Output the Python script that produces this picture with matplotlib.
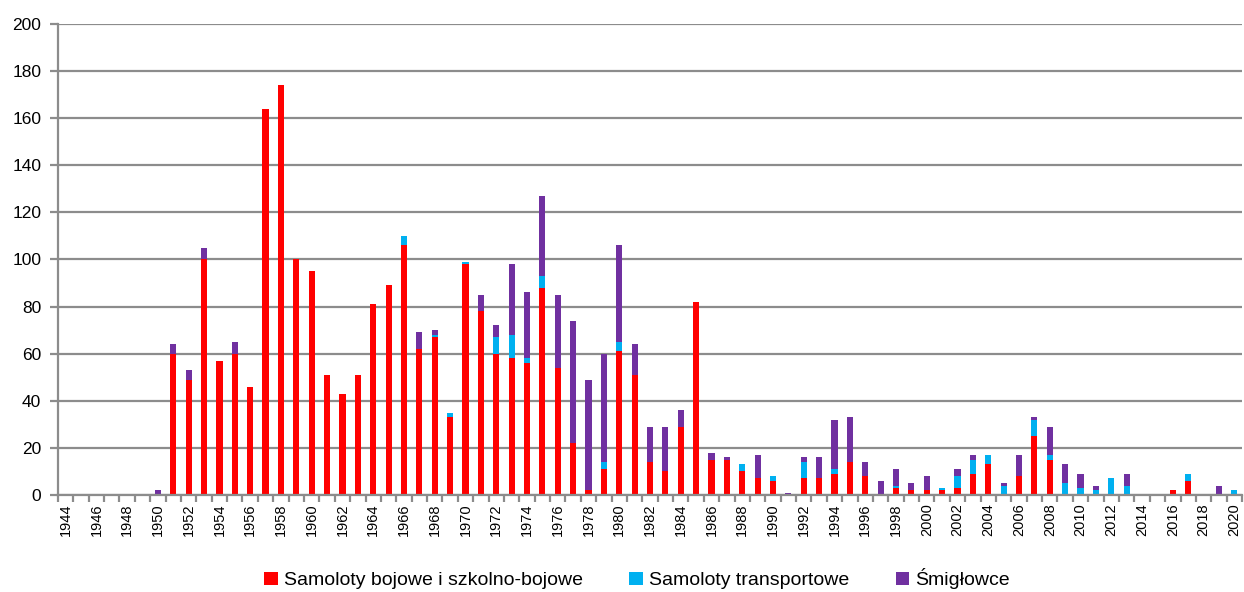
import numpy as np
import matplotlib
matplotlib.use("Agg")
import matplotlib.pyplot as plt
from matplotlib.patches import Patch

plt.rcParams['font.family'] = ['Liberation Sans', 'DejaVu Sans']

years = list(range(1944, 2021))

# aircraft counts per year
bojowe = {1951: 60, 1952: 49, 1953: 100, 1954: 57, 1955: 60, 1956: 46, 1957: 164,
          1958: 174, 1959: 100, 1960: 95, 1961: 51, 1962: 43, 1963: 51, 1964: 81,
          1965: 89, 1966: 106, 1967: 62, 1968: 67, 1969: 33, 1970: 98, 1971: 78,
          1972: 60, 1973: 58, 1974: 56, 1975: 88, 1976: 54, 1977: 22, 1978: 2,
          1979: 11, 1980: 61, 1981: 51, 1982: 14, 1983: 10, 1984: 29, 1985: 82,
          1986: 15, 1987: 15, 1988: 10, 1989: 7, 1990: 6, 1992: 7, 1993: 7,
          1994: 9, 1995: 14, 1996: 8, 1998: 3, 1999: 2, 2000: 2, 2001: 2, 2002: 3,
          2003: 9, 2004: 13, 2006: 8, 2007: 25, 2008: 15, 2016: 2, 2017: 6}
transportowe = {1966: 4, 1968: 1, 1969: 2, 1970: 1, 1972: 7, 1973: 10, 1974: 2,
                1975: 5, 1979: 3, 1980: 4, 1988: 3, 1990: 2, 1992: 7, 1994: 2,
                1998: 1, 2001: 1, 2002: 5, 2003: 6, 2004: 4, 2005: 4, 2007: 7,
                2008: 2, 2009: 5, 2010: 3, 2011: 2, 2012: 7, 2013: 4, 2017: 3, 2020: 2}
smiglowce = {1950: 2, 1951: 4, 1952: 4, 1953: 5, 1955: 5, 1967: 7, 1968: 2, 1971: 7,
             1972: 5, 1973: 30, 1974: 28, 1975: 34, 1976: 31, 1977: 52, 1978: 47,
             1979: 46, 1980: 41, 1981: 13, 1982: 15, 1983: 19, 1984: 7, 1986: 3,
             1987: 1, 1989: 10, 1991: 1, 1992: 2, 1993: 9, 1994: 21, 1995: 19,
             1996: 6, 1997: 6, 1998: 7, 1999: 3, 2000: 6, 2002: 3, 2003: 2, 2005: 1,
             2006: 9, 2007: 1, 2008: 12, 2009: 8, 2010: 6, 2011: 2, 2013: 5, 2019: 4}

labels = ['Samoloty bojowe i szkolno-bojowe', 'Samoloty transportowe', 'Śmigłowce']
colors = ['#FF0000', '#00B0F0', '#7030A0']

a = np.array([bojowe.get(y, 0) for y in years])
b = np.array([transportowe.get(y, 0) for y in years])
c = np.array([smiglowce.get(y, 0) for y in years])
x = np.arange(len(years))

fig = plt.figure(figsize=(12.44, 5.92), dpi=100)
ax = fig.add_axes([0.0466, 0.1639, 0.9518, 0.7956])

w = 0.4
ax.bar(x, a, w, color=colors[0], zorder=3)
ax.bar(x, b, w, bottom=a, color=colors[1], zorder=3)
ax.bar(x, c, w, bottom=a + b, color=colors[2], zorder=3)

grid_c = '#8C8C8C'
ax.set_ylim(0, 200)
ax.set_yticks(range(0, 201, 20))
ax.yaxis.grid(True, color=grid_c, linewidth=1.6, zorder=0)
ax.set_xlim(-0.5, len(years) - 0.5)

# labels every second year, tick marks on category boundaries
ax.set_xticks(x[::2])
ax.set_xticklabels([str(y) for y in years[::2]], rotation=90, fontsize=10.5)
ax.set_xticks(np.arange(-0.5, len(years)), minor=True)
ax.tick_params(axis='x', which='major', length=0, pad=6)
ax.tick_params(axis='x', which='minor', length=5, width=1.6, color=grid_c)
ax.tick_params(axis='y', length=6, width=1.6, color=grid_c, labelsize=12.5, pad=6)

for s in ['top', 'right']:
    ax.spines[s].set_visible(False)
for s in ['left', 'bottom']:
    ax.spines[s].set_color(grid_c)
    ax.spines[s].set_linewidth(1.6)
    ax.spines[s].set_zorder(4)

handles = [Patch(facecolor=col, edgecolor='none') for col in colors]
fig.legend(handles, labels, loc='center', bbox_to_anchor=(0.512, 0.022), ncol=3,
           frameon=False, fontsize=14, handlelength=0.7, handleheight=0.7,
           handletextpad=0.3, columnspacing=2.4)

fig.savefig('out.png', dpi=100)
